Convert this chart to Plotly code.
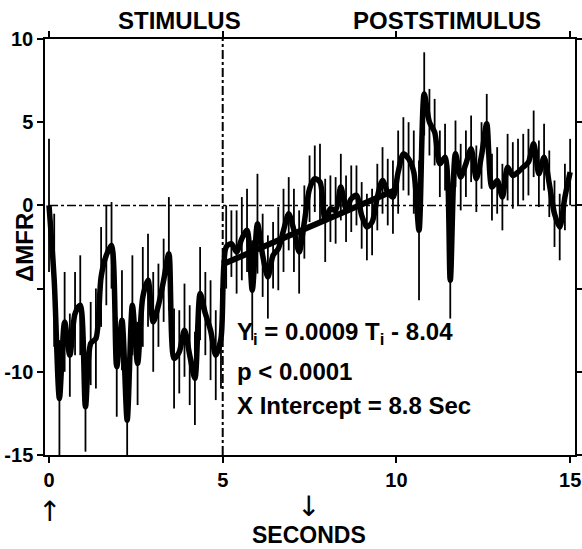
import plotly.graph_objects as go

# ---- data ----
bin_width = 0.15
mfr = [0.0, -4.5, -11.6, -7.0, -9.0, -6.5, -6.0, -12.1, -8.3, -8.0,
       -4.3, -3.0, -2.4, -9.7, -6.9, -12.9, -6.0, -9.5, -5.5, -4.5,
       -7.0, -6.0, -4.5, -2.9, -9.2, -8.8, -7.5, -9.0, -10.4, -5.3,
       -6.5, -7.5, -9.0, -8.0, -2.5, -2.3, -2.8, -2.0, -1.5, -5.1,
       -1.1, -3.0, -4.3, -3.0, -2.6, -1.5, -0.5, -1.5, -2.8, -1.0,
       1.0, 1.6, 1.4, -0.9, -0.2, -0.3, 1.1, -0.2, 0.4, 0.6,
       -0.6, -1.3, -1.0, 0.5, 1.5, 0.8, 0.5, 2.0, 3.1, 2.8,
       2.0, -1.5, 6.7, 5.0, 4.4, 2.5, 2.9, -4.5, 3.1, 1.7,
       2.5, 3.4, 1.6, 3.0, 4.9, 1.1, 1.5, 0.5, 2.3, 1.8,
       2.0, 2.3, 2.6, 3.7, 1.9, 2.9, 1.3, -0.5, -1.3, 0.5, 2.0]
err = [4.0, 4.0, 3.5, 3.0, 2.5, 2.5, 3.0, 2.7, 2.5, 3.0,
       3.0, 3.0, 2.6, 3.0, 3.0, 2.6, 3.0, 2.5, 3.0, 2.8,
       3.0, 2.5, 2.5, 3.4, 3.0, 2.5, 2.8, 3.0, 2.8, 2.8,
       2.5, 3.0, 2.7, 3.0, 2.5, 2.0, 2.5, 2.5, 2.5, 3.0,
       3.0, 2.5, 2.5, 2.0, 2.5, 2.5, 2.2, 2.5, 2.5, 2.2,
       2.0, 2.0, 2.3, 2.5, 2.0, 2.0, 2.0, 2.0, 2.0, 1.8,
       2.0, 2.0, 2.0, 2.0, 2.0, 2.0, 2.2, 2.5, 2.2, 2.2,
       2.5, 4.2, 2.5, 2.0, 2.0, 2.0, 2.0, 2.3, 2.0, 2.0,
       2.0, 2.0, 2.0, 2.0, 1.8, 2.0, 2.0, 2.0, 2.0, 2.0,
       2.0, 2.0, 2.0, 2.0, 2.0, 2.0, 2.0, 2.0, 2.0, 2.0, 2.0]
seconds = [round(i * bin_width, 2) for i in range(len(mfr))]

reg_slope = 0.9        # per second (0.0009 per ms)
reg_intercept = -8.04
reg_x = [5.0, 9.95]
reg_y = [reg_slope * x + reg_intercept for x in reg_x]

x_ticks = [0, 5, 10, 15]
y_ticks = [10, 5, 0, -5, -10, -15]
y_ticktext = ["10", "5", "0", "", "-10", "-15"]

FONT = "Liberation Sans"
W, H = 582, 549
ml, mr, mt, mb = 45, 7, 39, 94
pw, ph = W - ml - mr, H - mt - mb

fig = go.Figure()

fig.add_trace(go.Scatter(
    x=seconds, y=mfr, mode="lines",
    line=dict(color="black", width=5.5, shape="spline", smoothing=0.8),
    error_y=dict(type="data", array=err, visible=True,
                 color="black", thickness=1.8, width=0),
    showlegend=False, hoverinfo="skip"))

fig.add_trace(go.Scatter(
    x=reg_x, y=reg_y, mode="lines",
    line=dict(color="black", width=6),
    showlegend=False, hoverinfo="skip"))

fig.add_shape(type="line", x0=5, x1=5, y0=-15, y1=10, xref="x", yref="y",
              line=dict(color="black", width=2, dash="dashdot"), layer="below")
fig.add_shape(type="line", x0=0, x1=15.14, y0=0, y1=0, xref="x", yref="y",
              line=dict(color="black", width=1.5, dash="dashdot"), layer="below")

bold = dict(family=FONT, color="black", size=24)
arrowfont = dict(family="DejaVu Sans", size=28, color="black")
ann = [
    dict(x=3.76, y=1.0, xref="x", yref="paper", yanchor="bottom", yshift=3,
         text="<b>STIMULUS</b>", font=bold),
    dict(x=11.46, y=1.0, xref="x", yref="paper", yanchor="bottom", yshift=3,
         text="<b>POSTSTIMULUS</b>", font=bold),
    dict(x=5.35, y=-7.7, xref="x", yref="y", xanchor="left",
         text="<b>Y<sub>i</sub> = 0.0009 T<sub>i</sub> - 8.04</b>", font=bold),
    dict(x=5.35, y=-10.0, xref="x", yref="y", xanchor="left",
         text="<b>p &lt; 0.0001</b>", font=bold),
    dict(x=5.35, y=-12.0, xref="x", yref="y", xanchor="left",
         text="<b>X Intercept = 8.8 Sec</b>", font=bold),
    dict(x=(24 - ml) / pw, y=(H - mb - 248) / ph, xref="paper", yref="paper",
         xanchor="center", yanchor="middle",
         text="<b>ΔMFR</b>", textangle=-90, font=bold),
    dict(x=0, y=-15, xref="x", yref="y", yshift=-56, text="↑", font=arrowfont),
    dict(x=7.47, y=-15, xref="x", yref="y", yshift=-51, text="↓", font=arrowfont),
    dict(x=7.47, y=-15, xref="x", yref="y", yshift=-80, text="<b>SECONDS</b>",
         font=dict(family=FONT, color="black", size=23), borderpad=0),
]
for a in ann:
    a["showarrow"] = False

axis_common = dict(showgrid=False, zeroline=False, showline=True, linecolor="black",
                   linewidth=1.5, mirror="allticks", ticks="outside", ticklen=6,
                   tickwidth=1.5, tickcolor="black", automargin=False,
                   tickfont=dict(family=FONT, size=20, color="black"))

fig.update_layout(
    width=W, height=H,
    margin=dict(l=ml, r=mr, t=mt, b=mb, autoexpand=False),
    paper_bgcolor="white", plot_bgcolor="white",
    annotations=ann,
    font=dict(family=FONT, color="black"),
    xaxis=dict(range=[-0.115, 15.14], tickvals=x_ticks,
               ticktext=[f"<b>{v}</b>" for v in x_ticks], **axis_common),
    yaxis=dict(range=[-15, 10], tickvals=y_ticks,
               ticktext=[f"<b>{t}</b>" for t in y_ticktext], **axis_common),
)

fig.write_html("out.html")
